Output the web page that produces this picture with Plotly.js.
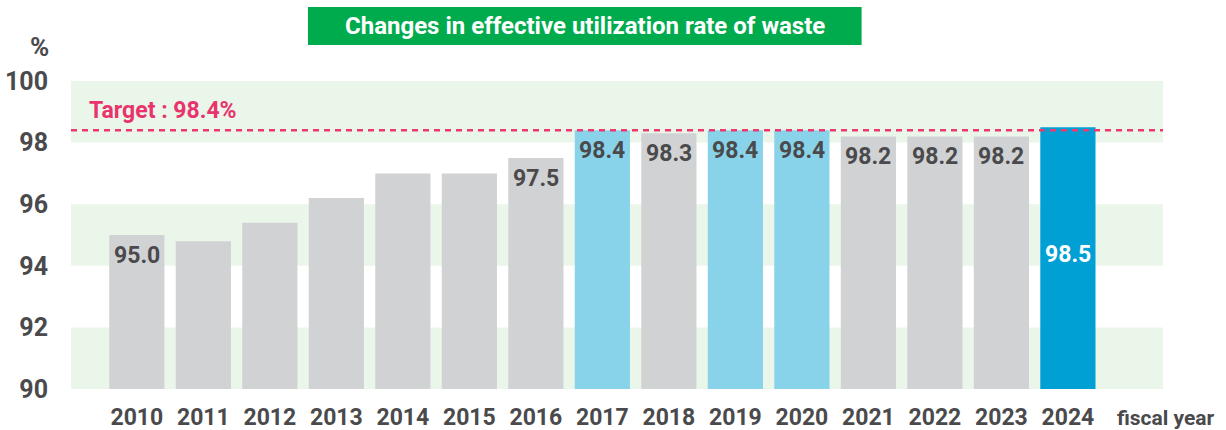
<!DOCTYPE html>
<html>
<head>
<meta charset="utf-8">
<script src="https://cdn.plot.ly/plotly-3.0.1.min.js"></script>
<style>html,body{margin:0;padding:0;background:#fff;}#chart{width:1226px;height:430px;}</style>
</head>
<body>
<div id="chart"></div>
<script>
// ---- data ----
const years = ['2010','2011','2012','2013','2014','2015','2016','2017','2018','2019','2020','2021','2022','2023','2024'];
const rates = [95.0, 94.8, 95.4, 96.2, 97.0, 97.0, 97.5, 98.4, 98.3, 98.4, 98.4, 98.2, 98.2, 98.2, 98.5];
const valueLabels = ['95.0', null, null, null, null, null, '97.5', '98.4', '98.3', '98.4', '98.4', '98.2', '98.2', '98.2', '98.5'];
const barKinds = ['past','past','past','past','past','past','past','met','past','met','met','past','past','past','current'];
const target = 98.4;
const yTicks = [90, 92, 94, 96, 98, 100];
const shadedBands = [[90, 92], [94, 96], [98, 100]];

const kindColor = {past: '#d1d2d4', met: '#89d3ea', current: '#009fd4'};
const FONT = 'Roboto, "Noto Sans", sans-serif';
const DARK = '#4a4a4c';

const trace = {
  type: 'bar',
  x: years,
  y: rates,
  marker: {color: barKinds.map(k => kindColor[k])},
  hoverinfo: 'skip',
  textposition: 'none'
};

const shapes = shadedBands.map(b => ({
  type: 'rect', xref: 'paper', yref: 'y', x0: 0, x1: 1, y0: b[0], y1: b[1],
  fillcolor: '#ebf6ea', line: {width: 0}, layer: 'below'
}));
shapes.push({
  type: 'line', xref: 'paper', yref: 'y', x0: 0, x1: 1, y0: target, y1: target,
  line: {color: '#ef386b', width: 2.5, dash: '6px,5px'}, layer: 'above'
});
// title box
shapes.push({
  type: 'rect', xref: 'paper', yref: 'paper', x0: 0.217, x1: 0.724, y0: 1.117, y1: 1.240,
  fillcolor: '#00ab4e', line: {width: 0}
});

const annotations = [];
valueLabels.forEach((t, i) => {
  if (t === null) return;
  if (barKinds[i] === 'current') {
    annotations.push({
      x: i, y: (90 + rates[i]) / 2, xref: 'x', yref: 'y', text: t, showarrow: false,
      xanchor: 'center', yanchor: 'middle',
      font: {family: FONT, size: 23, color: '#ffffff', weight: 700}, yshift: 4
    });
  } else {
    annotations.push({
      x: i, y: rates[i], xref: 'x', yref: 'y', text: t, showarrow: false,
      xanchor: 'center', yanchor: 'top', yshift: -5,
      font: {family: FONT, size: 23, color: DARK, weight: 700}
    });
  }
});
annotations.push({
  xref: 'paper', yref: 'paper', x: 0.4707, y: 1.179, xanchor: 'center', yanchor: 'middle',
  text: 'Changes in effective utilization rate of waste',
  showarrow: false, font: {family: FONT, size: 24, color: '#ffffff', weight: 700}
});
annotations.push({
  xref: 'paper', yref: 'y', x: 0.0146, y: 99.05, xanchor: 'left', yanchor: 'middle',
  text: 'Target : ' + target + '%',
  showarrow: false, font: {family: FONT, size: 23, color: '#e9336c', weight: 700}
});
annotations.push({
  xref: 'paper', yref: 'paper', x: -0.0284, y: 1.110, xanchor: 'center', yanchor: 'middle', text: '%',
  showarrow: false, font: {family: FONT, size: 26, color: DARK, weight: 700}
});
annotations.push({
  xref: 'paper', yref: 'paper', x: 1.003, y: -0.094, xanchor: 'center', yanchor: 'middle', text: 'fiscal year',
  showarrow: false, font: {family: FONT, size: 21, color: DARK, weight: 700}
});

const layout = {
  width: 1226, height: 430,
  margin: {l: 71, r: 63, t: 81, b: 41},
  paper_bgcolor: '#ffffff', plot_bgcolor: 'rgba(0,0,0,0)',
  showlegend: false,
  bargap: 0.17,
  xaxis: {
    type: 'category', range: [-0.99, 15.43], showgrid: false, zeroline: false, showline: false,
    ticks: 'outside', ticklen: 7, tickcolor: 'rgba(0,0,0,0)',
    tickfont: {family: FONT, size: 23, color: DARK, weight: 700}, fixedrange: true
  },
  yaxis: {
    range: [90, 100], tickvals: yTicks, showgrid: false, zeroline: false, showline: false,
    ticks: 'outside', ticklen: 17, tickcolor: 'rgba(0,0,0,0)',
    tickfont: {family: FONT, size: 25, color: DARK, weight: 700}, fixedrange: true
  },
  shapes: shapes,
  annotations: annotations
};

Plotly.newPlot('chart', [trace], layout, {staticPlot: true, displayModeBar: false});
</script>
</body>
</html>
